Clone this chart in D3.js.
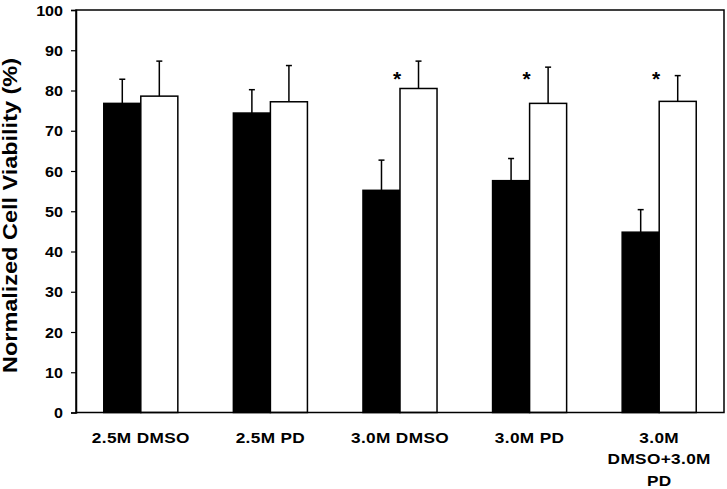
<!DOCTYPE html>
<html>
<head>
<meta charset="utf-8">
<script src="https://cdn.jsdelivr.net/npm/d3@7"></script>
<style>
  body { margin: 0; background: #fff; }
  svg { display: block; }
  text { font-family: "Liberation Sans", Arial, sans-serif; font-weight: bold; fill: #000; }
</style>
</head>
<body>
<svg id="chart"></svg>
<script>
// data
var categories = ["2.5M DMSO", "2.5M PD", "3.0M DMSO", "3.0M PD", "3.0M DMSO+3.0M PD"]
var categoryLines = [["2.5M DMSO"], ["2.5M PD"], ["3.0M DMSO"], ["3.0M PD"], ["3.0M", "DMSO+3.0M", "PD"]]
var blackValues = [76.8, 74.4, 55.2, 57.6, 44.8]
var blackErrors = [6.0, 5.8, 7.5, 5.5, 5.6]
var whiteValues = [78.6, 77.2, 80.5, 76.8, 77.3]
var whiteErrors = [8.7, 9.0, 6.8, 9.0, 6.4]
var significant = [false, false, true, true, true]
var yTicks = [0, 10, 20, 30, 40, 50, 60, 70, 80, 90, 100]

//dimensions
var dimensions = {
    width: 727,
    height: 489,
    left: 76,
    right: 724,
    top: 10,
    bottom: 412.5
}

var svg = d3.select("#chart")
            .attr("width", dimensions.width)
            .attr("height", dimensions.height)

var x = d3.scaleBand()
          .domain(categories)
          .range([dimensions.left, dimensions.right])
          .paddingInner(0)
          .paddingOuter(0)

var sub = d3.scaleBand()
            .domain(["black", "white"])
            .range([0, x.bandwidth()])
            .paddingInner(0)
            .paddingOuter(0.75)

var y = d3.scaleLinear()
          .domain([0, 100])
          .range([dimensions.bottom, dimensions.top])

// build rows for bars
var rows = []
categories.forEach((c, i) => {
    rows.push({cat: c, series: "black", value: blackValues[i], err: blackErrors[i]})
    rows.push({cat: c, series: "white", value: whiteValues[i], err: whiteErrors[i]})
})

// error bars (upward only)
var errs = svg.append("g").selectAll("g")
              .data(rows)
              .enter()
              .append("g")
              .attr("stroke", "#000")
              .attr("stroke-width", 1.5)

errs.append("line")
    .attr("x1", d => x(d.cat) + sub(d.series) + sub.bandwidth() / 2)
    .attr("x2", d => x(d.cat) + sub(d.series) + sub.bandwidth() / 2)
    .attr("y1", d => y(d.value))
    .attr("y2", d => y(d.value + d.err))

errs.append("line")
    .attr("x1", d => x(d.cat) + sub(d.series) + sub.bandwidth() / 2 - 3)
    .attr("x2", d => x(d.cat) + sub(d.series) + sub.bandwidth() / 2 + 3)
    .attr("y1", d => y(d.value + d.err))
    .attr("y2", d => y(d.value + d.err))

// bars
svg.append("g").selectAll("rect")
   .data(rows)
   .enter()
   .append("rect")
   .attr("x", d => x(d.cat) + sub(d.series))
   .attr("y", d => y(d.value))
   .attr("width", sub.bandwidth())
   .attr("height", d => y(0) - y(d.value))
   .attr("fill", d => d.series === "black" ? "#000" : "#fff")
   .attr("stroke", "#000")
   .attr("stroke-width", 1.5)

// significance stars
svg.append("g").selectAll("text")
   .data(categories.filter((c, i) => significant[i]))
   .enter()
   .append("text")
   .attr("x", d => x(d) + sub("white") - 3)
   .attr("y", y(83.6) + 10)
   .attr("text-anchor", "middle")
   .style("font-size", "21px")
   .text("*")

// frame
svg.append("path")
   .attr("d", "M" + dimensions.left + "," + dimensions.bottom +
              "V" + dimensions.top + "H" + dimensions.right + "V" + dimensions.bottom + "Z")
   .attr("fill", "none")
   .attr("stroke", "#000")
   .attr("stroke-width", 1.5)

// y axis
var yAxis = svg.append("g")
               .attr("transform", "translate(" + dimensions.left + ",0)")
               .call(d3.axisLeft(y).tickValues(yTicks).tickSize(5).tickFormat(d3.format("d")))
yAxis.select(".domain").attr("stroke-width", 1.5)
yAxis.selectAll(".tick line").attr("stroke-width", 1.2)
yAxis.selectAll(".tick text")
     .attr("x", null)
     .attr("dy", null)
     .attr("transform", "translate(-13,5) scale(1.15,1)")
     .style("font-size", "14px")
     .style("font-family", "'Liberation Sans', Arial, sans-serif")
     .style("font-weight", "bold")
     .attr("fill", "#000")

// x labels
var xl = svg.append("g").selectAll("g")
            .data(categories)
            .enter()
            .append("g")
            .attr("transform", d => "translate(" + (x(d) + x.bandwidth() / 2) + ",443) scale(1.15,1)")

xl.selectAll("text")
  .data((d, i) => categoryLines[i])
  .enter()
  .append("text")
  .attr("y", (d, i) => i * 21.5)
  .attr("text-anchor", "middle")
  .style("font-size", "15px")
  .style("letter-spacing", "0.3px")
  .text(d => d)

// y title
svg.append("text")
   .attr("transform", "translate(17,215.5) rotate(-90)")
   .attr("text-anchor", "middle")
   .attr("textLength", 315)
   .attr("lengthAdjust", "spacingAndGlyphs")
   .style("font-size", "20px")
   .text("Normalized Cell Viability (%)")
</script>
</body>
</html>
